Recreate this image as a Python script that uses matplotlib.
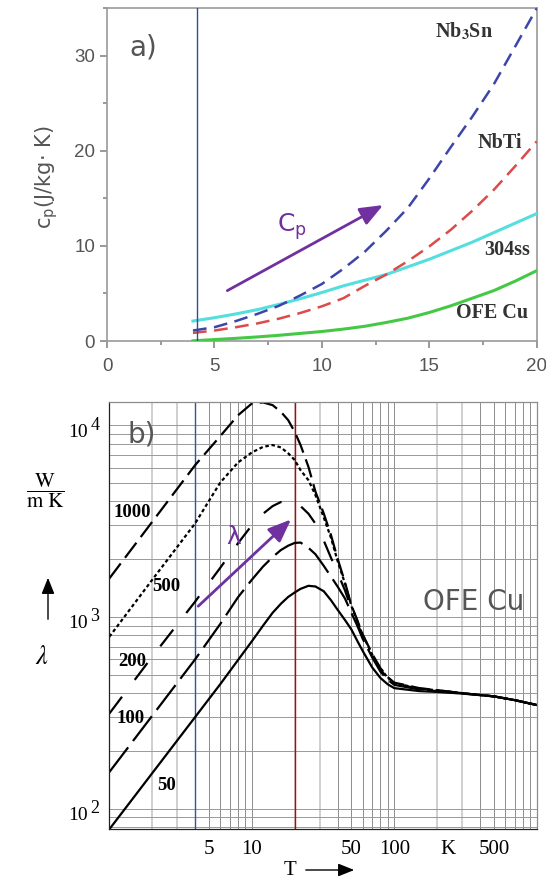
import matplotlib
matplotlib.use('Agg')
import matplotlib.pyplot as plt
from matplotlib.ticker import MultipleLocator, FixedLocator, NullLocator

# a) specific heat c_p in J/(kg K) between 4 K and 20 K
T_cp = [4, 5, 6, 7, 8, 9, 10, 11, 12, 13, 14, 15, 16, 17, 18, 19, 20]
cp_nb3sn = [1.1, 1.45, 2.1, 2.85, 3.7, 4.8, 6.0, 7.6, 9.4, 11.6, 14.0, 17.1, 20.4, 23.6, 27.0, 31.0, 35.0]
cp_nbti = [0.85, 1.1, 1.45, 1.85, 2.35, 2.95, 3.65, 4.5, 5.8, 7.0, 8.4, 9.95, 11.7, 13.7, 15.9, 18.4, 21.0]
cp_304ss = [2.1, 2.45, 2.85, 3.3, 3.85, 4.45, 5.1, 5.8, 6.4, 7.0, 7.8, 8.6, 9.5, 10.4, 11.4, 12.4, 13.4]
cp_cu = [0.02, 0.15, 0.28, 0.43, 0.6, 0.8, 1.0, 1.25, 1.55, 1.95, 2.4, 3.0, 3.7, 4.5, 5.3, 6.3, 7.4]

# b) thermal conductivity of OFE copper in W/(m K) for several RRR
T_k = [1, 2, 4, 6, 8, 10, 12, 14, 16, 18, 20, 22, 25, 28, 32, 36, 40, 45, 50,
       55, 60, 70, 80, 90, 100, 150, 200, 300, 500, 700, 1000]
k_rrr1000 = [1585, 3130, 6180, 8750, 11250, 12950, 13130, 12710, 11730, 10620, 9230, 7870, 6050, 4490,
             3460, 2665, 2015, 1523, 1150, 962, 812, 641, 540, 485, 454, 425, 415, 400, 385, 368, 347]
k_rrr500 = [787, 1560, 3070, 5010, 6380, 7200, 7700, 7870, 7650, 7130, 6580, 5820, 5160, 4310,
            3300, 2580, 1960, 1500, 1140, 955, 805, 636, 536, 482, 452, 423, 414, 400, 385, 368, 347]
k_rrr200 = [313, 620, 1200, 1800, 2420, 3000, 3450, 3780, 3970, 4020, 3950, 3780, 3450, 3060,
            2500, 2030, 1700, 1380, 1100, 930, 790, 630, 530, 478, 448, 422, 413, 400, 385, 368, 347]
k_rrr100 = [155, 305, 600, 917, 1265, 1560, 1830, 2050, 2230, 2350, 2430, 2440, 2290, 2120,
            1845, 1620, 1440, 1250, 1050, 900, 770, 615, 518, 470, 442, 418, 410, 399, 385, 368, 347]
k_rrr50 = [78, 153, 300, 445, 595, 745, 900, 1050, 1170, 1270, 1340, 1400, 1452, 1440,
           1360, 1220, 1090, 965, 860, 750, 665, 545, 480, 445, 425, 410, 406, 398, 385, 368, 347]

x_ticks_b = [5, 10, 50, 100, 500]
y_ticks_b = [100, 1000, 10000]
y_exponents_b = ['2', '3', '4']

PURPLE = '#7030a0'
GREY_TXT = '#555555'


def panel_a(fig):
	ax = fig.add_axes([0.196, 0.6125, 0.787, 0.378])
	ax.plot(T_cp, cp_cu, color='#45c845', lw=2.2, zorder=3)
	ax.plot(T_cp, cp_304ss, color='#55dede', lw=2.2, zorder=3)
	ax.plot(T_cp, cp_nbti, color='#dd4a4a', lw=1.8, dashes=(5.5, 3), zorder=3)
	ax.plot(T_cp, cp_nb3sn, color='#3c46aa', lw=1.8, dashes=(5.5, 3), zorder=3)
	ax.axvline(4.2, color='#2f4f8f', lw=1.0, zorder=4)

	ax.set_xlim(0, 20)
	ax.set_ylim(0, 35)
	ax.xaxis.set_major_locator(MultipleLocator(5))
	ax.xaxis.set_minor_locator(MultipleLocator(2.5))
	ax.yaxis.set_major_locator(MultipleLocator(10))
	ax.yaxis.set_minor_locator(MultipleLocator(5))
	ax.tick_params(which='both', direction='out', color='#888888', labelcolor=GREY_TXT,
				   labelsize=13.5, width=1.2)
	ax.tick_params(which='major', length=5)
	ax.tick_params(which='minor', length=3)
	ax.tick_params(axis='x', pad=7)
	for lab in ax.get_xticklabels() + ax.get_yticklabels():
		lab.set_fontfamily('Liberation Sans')
	for s in ax.spines.values():
		s.set_color('#999999')
		s.set_linewidth(1.2)

	mat = dict(family='Liberation Serif', weight='bold', fontsize=14.5, color='#333333',
			   ha='center', va='center')
	ax.text(16.6, 32.6, 'Nb$_\\mathbf{3}$Sn', **mat)
	ax.text(18.3, 20.8, 'NbTi', **mat)
	ax.text(18.6, 9.6, '304ss', **mat)
	ax.text(17.9, 2.9, 'OFE Cu', **mat)

	ax.text(1.7, 30.9, 'a)', fontsize=20, color=GREY_TXT, family='DejaVu Sans',
			ha='center', va='center')
	ax.annotate('', xy=(12.85, 14.3), xytext=(5.6, 5.3),
				arrowprops=dict(arrowstyle='-|>,head_length=0.7,head_width=0.28',
								color=PURPLE, lw=2, mutation_scale=20, shrinkA=0, shrinkB=0))
	ax.text(8.6, 12.0, 'C$_\\mathrm{p}$', fontsize=18, color=PURPLE, family='DejaVu Sans',
			math_fontfamily='dejavusans', ha='center', va='center')

	fig.text(47 / 546, 1 - 177 / 880, 'c$_\\mathrm{p}$(J/kg· K)', rotation=90, fontsize=15,
			 color=GREY_TXT, family='DejaVu Sans', math_fontfamily='dejavusans',
			 ha='center', va='center')


def panel_b(fig):
	ax = fig.add_axes([0.2002, 0.0576, 0.7828, 0.4856])
	ax.set_xscale('log')
	ax.set_yscale('log')
	ax.set_xlim(1, 1000)
	ax.set_ylim(78, 13200)

	# log grid, 2 and 3 of each decade drawn lighter
	for dec in [1, 10, 100]:
		for m in range(1, 10):
			v = m * dec
			if 1 < v < 1000:
				if m in (2, 3):
					ax.axvline(v, color='#cccccc', lw=1.3, zorder=0)
				else:
					ax.axvline(v, color='#8c8c8c', lw=0.7, zorder=0)
	for dec in [10, 100, 1000, 10000]:
		for m in range(1, 10):
			v = m * dec
			if 78 < v < 13200:
				ax.axhline(v, color='#999999', lw=0.7, zorder=0)

	ax.axvline(4, color='#2f5597', lw=1.0, zorder=1)
	ax.axvline(20, color='#c00000', lw=1.0, zorder=1)

	ax.plot(T_k, k_rrr1000, color='black', lw=1.6, dashes=(8.5, 3.2), zorder=2)
	ax.plot(T_k, k_rrr500, color='black', lw=1.6, dashes=(1.6, 1.2), zorder=2)
	ax.plot(T_k, k_rrr200, color='black', lw=1.6, dashes=(9.5, 9.5), zorder=2)
	ax.plot(T_k, k_rrr100, color='black', lw=1.6, dashes=(14, 3.6), zorder=2)
	ax.plot(T_k, k_rrr50, color='black', lw=1.6, zorder=2)

	ax.xaxis.set_major_locator(FixedLocator(x_ticks_b))
	ax.xaxis.set_minor_locator(NullLocator())
	ax.set_xticklabels([str(t) for t in x_ticks_b])
	ax.yaxis.set_major_locator(FixedLocator(y_ticks_b))
	ax.yaxis.set_minor_locator(NullLocator())
	ax.set_yticklabels([])
	ax.tick_params(length=0, labelsize=15)
	ax.tick_params(axis='x', pad=8)
	for lab in ax.get_xticklabels():
		lab.set_fontfamily('Liberation Serif')
	# 10^n labels with a big exponent, as in the original
	for v, e in zip(y_ticks_b, y_exponents_b):
		ax.annotate('10', xy=(0, v), xycoords=('axes fraction', 'data'), xytext=(-21, -7),
					textcoords='offset pixels', ha='right', va='center', fontsize=14,
					family='Liberation Serif')
		ax.annotate(e, xy=(0, v), xycoords=('axes fraction', 'data'), xytext=(-19, 0),
					textcoords='offset pixels', ha='left', va='center', fontsize=13,
					family='Liberation Serif')
	ax.spines['left'].set_color('#222222')
	ax.spines['bottom'].set_color('#222222')
	ax.spines['top'].set_color('#8c8c8c')
	ax.spines['right'].set_color('#8c8c8c')
	for s in ax.spines.values():
		s.set_linewidth(0.9)

	rrr = dict(family='Liberation Serif', weight='bold', fontsize=13.5, color='black',
			   ha='center', va='center')
	ax.text(1.44, 3500, '1000', **rrr)
	ax.text(2.53, 1433, '500', **rrr)
	ax.text(1.44, 582, '200', **rrr)
	ax.text(1.40, 295, '100', **rrr)
	ax.text(2.53, 132, '50', **rrr)

	ax.text(1.69, 8930, 'b)', fontsize=20, color=GREY_TXT, family='DejaVu Sans',
			ha='center', va='center')
	ax.text(358, 1197, 'OFE Cu', fontsize=20, color=GREY_TXT, family='DejaVu Sans',
			ha='center', va='center')

	ax.annotate('', xy=(18.85, 3220), xytext=(4.21, 1137),
				arrowprops=dict(arrowstyle='-|>,head_length=0.7,head_width=0.28',
								color=PURPLE, lw=2, mutation_scale=20, shrinkA=0, shrinkB=0))
	ax.text(7.42, 2612, 'λ', fontsize=18, color=PURPLE, family='DejaVu Sans',
			ha='center', va='center')

	ax.text(239, -0.048, 'K', transform=ax.get_xaxis_transform(), fontsize=15,
			family='Liberation Serif', ha='center', va='center')

	# axis names outside the frame
	fig.text(290 / 546, 1 - 870 / 880, 'T', fontsize=15, family='Liberation Serif',
			 ha='center', va='center')
	fig.patches.append(matplotlib.patches.FancyArrowPatch(
		(303 / 546, 1 - 870 / 880), (357 / 546, 1 - 870 / 880), transform=fig.transFigure,
		arrowstyle='-|>,head_length=0.7,head_width=0.28', mutation_scale=14,
		color='black', lw=1))
	fig.text(45 / 546, 1 - 491 / 880, r'$\dfrac{\mathrm{W}}{\mathrm{m\ K}}$', fontsize=15,
			 ha='center', va='center')
	fig.patches.append(matplotlib.patches.FancyArrowPatch(
		(48 / 546, 1 - 622 / 880), (48 / 546, 1 - 575 / 880), transform=fig.transFigure,
		arrowstyle='-|>,head_length=0.7,head_width=0.28', mutation_scale=14,
		color='black', lw=1))
	fig.text(42 / 546, 1 - 657 / 880, r'$\lambda$', fontsize=19, ha='center', va='center')


def main():
	plt.rcParams['mathtext.fontset'] = 'stix'
	fig = plt.figure(figsize=(5.46, 8.8), dpi=100)
	panel_a(fig)
	panel_b(fig)
	fig.savefig('out.png', dpi=100)


if __name__ == "__main__":
	main()
